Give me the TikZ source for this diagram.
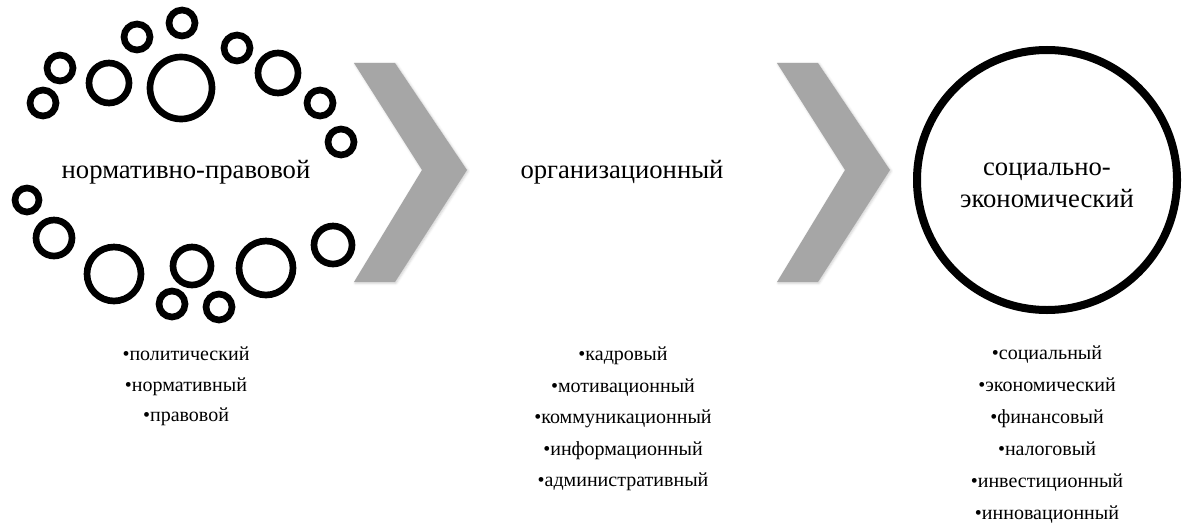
\documentclass[tikz,border=0pt]{standalone}
\usepackage{fontspec}
\setmainfont{Liberation Serif}
\usepackage{tikz}
\usetikzlibrary{shadows.blur}

\begin{document}
\begin{tikzpicture}[x=0.75pt,y=0.75pt,yscale=-1,xscale=1]
\useasboundingbox (0,0) rectangle (1187,528);

%Shape: Circles [ring of circles, top] 
\draw [line width=5]  (181,88) circle [radius=31] ;
\draw [line width=5]  (109,83) circle [radius=20] ;
\draw [line width=5]  (60,68) circle [radius=13] ;
\draw [line width=5]  (43,103) circle [radius=13] ;
\draw [line width=5]  (137,37) circle [radius=13] ;
\draw [line width=5]  (182,23) circle [radius=13] ;
\draw [line width=5]  (237,48) circle [radius=13] ;
\draw [line width=5]  (278,73) circle [radius=20] ;
\draw [line width=5]  (320,103) circle [radius=13] ;
\draw [line width=5]  (341,142) circle [radius=13] ;
%Shape: Circles [ring of circles, bottom] 
\draw [line width=5]  (27,200) circle [radius=12] ;
\draw [line width=5]  (54,238) circle [radius=18] ;
\draw [line width=5]  (114,274) circle [radius=27] ;
\draw [line width=5]  (192,266) circle [radius=19] ;
\draw [line width=5]  (266,268) circle [radius=27] ;
\draw [line width=5]  (333,245) circle [radius=19] ;
\draw [line width=5]  (172,304) circle [radius=13] ;
\draw [line width=5]  (219,307) circle [radius=13] ;

%Shape: Chevron [first] 
\draw [draw opacity=0][fill={rgb, 255:red, 166; green, 166; blue, 166 }  ,fill opacity=1 ][blur shadow={shadow xshift=0.8pt,shadow yshift=-0.8pt,shadow opacity=20}]   (354,63) -- (395,63) -- (467,170) -- (395,282) -- (354,282) -- (422,170) -- cycle ;
%Shape: Chevron [second] 
\draw [draw opacity=0][fill={rgb, 255:red, 166; green, 166; blue, 166 }  ,fill opacity=1 ][blur shadow={shadow xshift=0.8pt,shadow yshift=-0.8pt,shadow opacity=20}]   (777,63) -- (818,63) -- (890,170) -- (818,282) -- (777,282) -- (845,170) -- cycle ;

%Shape: Circle [big] 
\draw [line width=6]  (1047,180) circle [radius=130] ;

% Text Node
\draw (186,172) node (normpr) [inner sep=0.75pt]  [font=\fontsize{20}{24}\selectfont]  {нормативно-правовой};
% Text Node
\draw (622,172) node (orgn) [inner sep=0.75pt]  [font=\fontsize{20}{24}\selectfont]  {организационный};
% Text Node
\draw (1047,185) node (socek) [inner sep=0.75pt]  [font=\fontsize{20}{24}\selectfont,align=center]  {социально-\\экономический};

% Text Node
\draw (186,346) node (listnorm) [anchor=north][inner sep=0.75pt]  [font=\fontsize{15}{22.6}\selectfont,align=center]  {•политический\\•нормативный\\•правовой};
% Text Node
\draw (623,346) node (listorg) [anchor=north][inner sep=0.75pt]  [font=\fontsize{15}{23.6}\selectfont,align=center]  {•кадровый\\•мотивационный\\•коммуникационный\\•информационный\\•административный};
% Text Node
\draw (1047,345) node (listsoc) [anchor=north][inner sep=0.75pt]  [font=\fontsize{15}{24}\selectfont,align=center]  {•социальный\\•экономический\\•финансовый\\•налоговый\\•инвестиционный\\•инновационный};

\end{tikzpicture}
\end{document}
